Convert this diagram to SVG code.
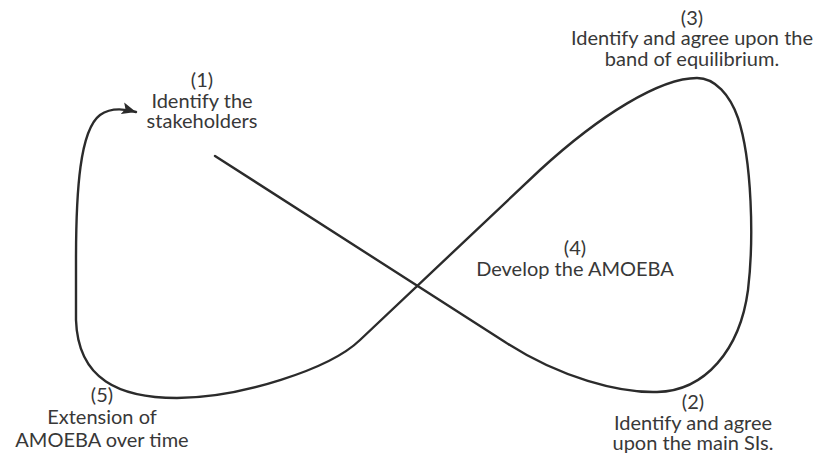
<svg xmlns="http://www.w3.org/2000/svg" width="816" height="456" viewBox="0 0 816 456">
  <style>
    .lbl { font-family: Lato, "Open Sans", "Liberation Sans", sans-serif; font-size: 20px; fill: #383838; text-anchor: middle; }
    .loop { fill: none; stroke: #2b2b2b; stroke-width: 2.4; stroke-linecap: round; stroke-linejoin: round; }
  </style>
  <defs>
    <marker id="head" markerUnits="userSpaceOnUse" markerWidth="16" markerHeight="14" refX="14" refY="6.5" orient="auto">
      <path d="M0,0.5 L14,6.5 L0,12.5 L3,6.5 Z" fill="#2b2b2b"/>
    </marker>
  </defs>
  <rect width="816" height="456" fill="#ffffff"/>

  <!-- figure-eight process loop -->
  <g id="connectors">
    <path class="loop" marker-end="url(#head)"
      d="M215,156 L505,342
         C560,378 620,393 657,392
         C705,391 740,350 748,290
         C754,240 752,160 738,118
         C730,95 715,78 697,78
         C660,78 600,115 540,170
         L360,340
         C330,369 240,398 177,398
         C120,398 78,380 76,320
         L76,260
         C76,190 80,130 100,115
         C110,108 122,108 136,112"/>
  </g>

  <g id="step1">
    <text class="lbl" x="202" y="87">(1)<tspan x="202" dy="21">Identify the</tspan><tspan x="202" dy="20">stakeholders</tspan></text>
  </g>

  <g id="step2">
    <text class="lbl" x="693" y="409">(2)<tspan x="693" dy="21">Identify and agree</tspan><tspan x="693" dy="20">upon the main SIs.</tspan></text>
  </g>

  <g id="step3">
    <text class="lbl" x="692" y="25">(3)<tspan x="692" dy="20">Identify and agree upon the</tspan><tspan x="692" dy="21">band of equilibrium.</tspan></text>
  </g>

  <g id="step4">
    <text class="lbl" x="575" y="255">(4)<tspan x="575" dy="21">Develop the AMOEBA</tspan></text>
  </g>

  <g id="step5">
    <text class="lbl" x="102" y="402">(5)<tspan x="102" dy="22">Extension of</tspan><tspan x="102" dy="23">AMOEBA over time</tspan></text>
  </g>
</svg>
